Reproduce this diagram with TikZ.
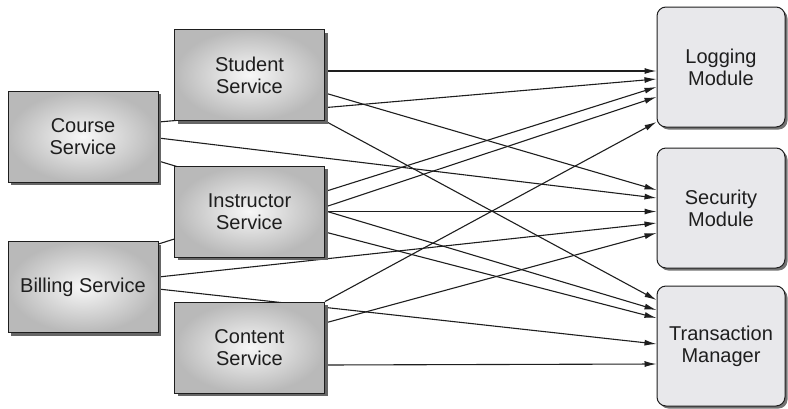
\documentclass[tikz,border=0pt]{standalone}
\usepackage{fontspec}
\setmainfont{Liberation Sans}
\usetikzlibrary{shadows,backgrounds,arrows.meta}
\definecolor{modfill}{RGB}{232,232,235}
\definecolor{ink}{RGB}{30,30,30}
\begin{document}
\begin{tikzpicture}[x=1pt,y=-1pt,
  svc/.style={draw=ink, line width=0.9pt, shading=radial, inner color=gray!6, outer color=gray!55,
    minimum width=150pt, minimum height=91pt, inner sep=0pt, align=center, text=ink,
    font=\fontsize{20}{22}\selectfont,
    drop shadow={shadow xshift=3pt, shadow yshift=-3pt, fill=black!60, opacity=1}},
  mod/.style={draw=ink, line width=1pt, rounded corners=9pt, fill=modfill,
    minimum width=128pt, minimum height=120pt, inner sep=0pt, align=center, text=ink,
    font=\fontsize{20}{22}\selectfont,
    drop shadow={shadow xshift=2.5pt, shadow yshift=-2.5pt, fill=black!55, opacity=1}},
  arr/.style={-{Latex[length=12pt,width=6pt]}, line width=1.1pt, draw=ink}]
\useasboundingbox (0,0) rectangle (788,408);
\node[svc] (student) at (249.5,75) {Student\\Service};
\node[svc] (course) at (83,136.5) {Course\\Service};
\node[svc] (instructor) at (249.5,211.5) {Instructor\\Service};
\node[svc] (billing) at (83,287) {Billing Service};
\node[svc] (content) at (249.5,347.5) {Content\\Service};
\node[mod] (logging) at (721,67) {Logging\\Module};
\node[mod] (security) at (721,208) {Security\\Module};
\node[mod] (transaction) at (721,346) {Transaction\\Manager};
\begin{scope}[on background layer]
% to Logging Module
\draw[arr] (student.east |- 0,71) -- (logging.west |- 0,71);
\draw[arr] (course.east |- 0,122) -- (logging.west |- 0,79);
\draw[arr] (billing.east |- 0,244) -- (logging.west |- 0,87);
\draw[arr] (instructor.east |- 0,207) -- (logging.west |- 0,97);
\draw[arr] (content.north east) -- (logging.west |- 0,122);
% to Security Module
\draw[arr] (student.east |- 0,93) -- (security.west |- 0,190);
\draw[arr] (course.east |- 0,138) -- (security.west |- 0,198);
\draw[arr] (instructor.east |- 0,211.5) -- (security.west |- 0,211.5);
\draw[arr] (billing.east |- 0,277) -- (security.west |- 0,223);
\draw[arr] (content.east |- 0,323) -- (security.west |- 0,233);
% to Transaction Manager
\draw[arr] (student.south east) -- (transaction.west |- 0,300);
\draw[arr] (course.east |- 0,161) -- (transaction.west |- 0,310);
\draw[arr] (instructor.east |- 0,232) -- (transaction.west |- 0,318);
\draw[arr] (billing.east |- 0,289) -- (transaction.west |- 0,344);
\draw[arr] (content.east |- 0,365) -- (transaction.west |- 0,364);
\end{scope}
\end{tikzpicture}
\end{document}
